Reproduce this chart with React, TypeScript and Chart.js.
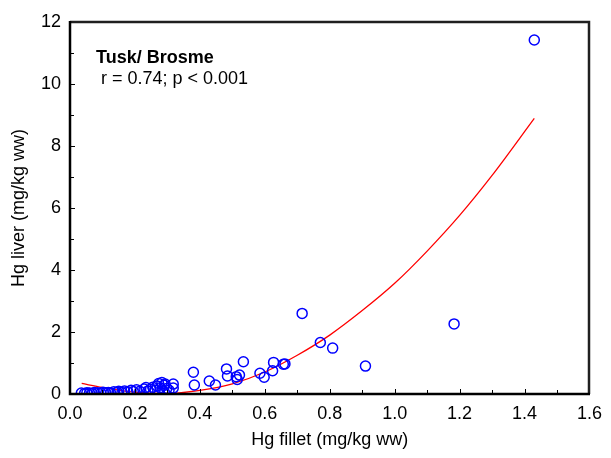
import React, { useEffect, useRef } from 'react';
import { Chart, registerables } from 'chart.js';

Chart.register(...registerables);

// Scatter data: Hg in fillet vs Hg in liver (mg/kg ww)
const filletHg = [
  0.035, 0.045, 0.052, 0.06, 0.068, 0.075, 0.085, 0.095, 0.102, 0.11,
  0.118, 0.125, 0.135, 0.145, 0.15, 0.16, 0.168, 0.178, 0.188, 0.195,
  0.205, 0.215, 0.228, 0.234, 0.24, 0.248, 0.255, 0.262, 0.268, 0.273,
  0.278, 0.283, 0.286, 0.29, 0.293, 0.298, 0.305, 0.318, 0.318,
  0.38, 0.383, 0.429, 0.448, 0.482, 0.485, 0.512, 0.515, 0.522, 0.534,
  0.585, 0.598, 0.624, 0.627, 0.657, 0.662, 0.715, 0.771, 0.809, 0.91,
  1.183, 1.43,
];
const liverHg = [
  0.03, 0.02, 0.04, 0.03, 0.02, 0.05, 0.04, 0.03, 0.06, 0.04,
  0.05, 0.03, 0.07, 0.06, 0.09, 0.05, 0.1, 0.07, 0.12, 0.08,
  0.14, 0.09, 0.16, 0.21, 0.1, 0.15, 0.22, 0.12, 0.26, 0.34,
  0.2, 0.37, 0.1, 0.28, 0.32, 0.18, 0.12, 0.32, 0.19,
  0.7, 0.29, 0.42, 0.29, 0.81, 0.58, 0.56, 0.47, 0.61, 1.04,
  0.67, 0.54, 0.75, 1.02, 0.96, 0.97, 2.6, 1.66, 1.48, 0.9,
  2.26, 11.42,
];

// Fitted curve
const fitX = [0.036, 0.1, 0.2, 0.3, 0.4, 0.5, 0.6, 0.7, 0.8, 0.9, 1.0, 1.1, 1.2, 1.3, 1.43];
const fitY = [0.34, 0.21, 0.06, 0.02, 0.12, 0.33, 0.71, 1.25, 1.9, 2.69, 3.57, 4.61, 5.76, 7.05, 8.89];

const xMinorTicks = [0.1, 0.3, 0.5, 0.7, 0.9, 1.1, 1.3, 1.5];
const xMajorTicks = [0, 0.2, 0.4, 0.6, 0.8, 1.0, 1.2, 1.4, 1.6];
const yMajorTicks = [0, 2, 4, 6, 8, 10, 12];
const yMinorTicks = [1, 3, 5, 7, 9, 11];

const titleLine1 = 'Tusk/ Brosme';
const titleLine2 = ' r = 0.74; p < 0.001';
const xTitle = 'Hg fillet (mg/kg ww)';
const yTitle = 'Hg liver (mg/kg ww)';

const FONT = '"Liberation Sans", Arial, sans-serif';

const framePlugin = {
  id: 'framePlugin',
  afterDraw(chart: any) {
    const ctx = chart.ctx as CanvasRenderingContext2D;
    const area = chart.chartArea;
    const left = Math.round(area.left);
    const right = Math.round(area.right);
    const top = Math.round(area.top);
    const bottom = Math.round(area.bottom);
    const xs = chart.scales.x;
    const ys = chart.scales.y;
    ctx.save();
    ctx.setLineDash([]);
    ctx.lineCap = 'butt';
    // inward ticks
    ctx.strokeStyle = '#000';
    ctx.lineWidth = 1;
    ctx.beginPath();
    const xt = [...xMajorTicks.map((v) => [v, 5]), ...xMinorTicks.map((v) => [v, 4])];
    xt.forEach(([v, len]) => {
      const px = Math.round(xs.getPixelForValue(v)) + 0.5;
      ctx.moveTo(px, bottom);
      ctx.lineTo(px, bottom - len);
    });
    const yt = [...yMajorTicks.map((v) => [v, 5]), ...yMinorTicks.map((v) => [v, 4])];
    yt.forEach(([v, len]) => {
      const py = Math.round(ys.getPixelForValue(v)) + 0.5;
      ctx.moveTo(left, py);
      ctx.lineTo(left + len, py);
    });
    ctx.stroke();
    // frame
    ctx.strokeStyle = '#202020';
    ctx.lineWidth = 2.5;
    ctx.beginPath();
    ctx.moveTo(left, top);
    ctx.lineTo(right, top);
    ctx.lineTo(right, bottom);
    ctx.stroke();
    ctx.strokeStyle = '#000';
    ctx.lineWidth = 2.5;
    ctx.beginPath();
    ctx.moveTo(left, top - 1);
    ctx.lineTo(left, bottom);
    ctx.lineTo(right + 1, bottom);
    ctx.stroke();
    // annotation
    ctx.fillStyle = '#000';
    ctx.textAlign = 'left';
    ctx.textBaseline = 'alphabetic';
    ctx.font = 'bold 18px ' + FONT;
    ctx.fillText(titleLine1, left + 26, top + 41);
    ctx.font = '18px ' + FONT;
    ctx.fillText(titleLine2, left + 26, top + 62);
    ctx.restore();
  },
};

export default function App() {
  const ref = useRef<HTMLCanvasElement | null>(null);
  useEffect(() => {
    if (!ref.current) return;
    const points = filletHg.map((x, i) => ({ x, y: liverHg[i] }));
    const curve = fitX.map((x, i) => ({ x, y: fitY[i] }));
    const chart = new Chart(ref.current, {
      type: 'scatter',
      data: {
        datasets: [
          {
            type: 'scatter',
            data: points,
            pointStyle: 'circle',
            pointRadius: 5,
            pointHoverRadius: 5,
            borderWidth: 1.5,
            borderColor: '#0000ff',
            backgroundColor: 'rgba(0,0,0,0)',
            clip: 0,
          } as any,
          {
            type: 'line',
            data: curve,
            borderColor: '#ff0000',
            borderWidth: 1.3,
            pointRadius: 0,
            fill: false,
            cubicInterpolationMode: 'monotone',
            showLine: true,
            clip: 0,
          } as any,
        ],
      },
      options: {
        animation: false,
        responsive: false,
        maintainAspectRatio: false,
        layout: { padding: { top: 22, right: 15, left: 0, bottom: 0 } },
        plugins: {
          legend: { display: false },
          tooltip: { enabled: false },
          title: { display: false },
        },
        scales: {
          x: {
            type: 'linear',
            min: 0,
            max: 1.6,
            afterFit: (s: any) => { s.height = 64; },
            afterBuildTicks: (s: any) => { s.ticks = xMajorTicks.map((v) => ({ value: v })); },
            grid: { display: false, drawTicks: false },
            border: { display: false },
            ticks: {
              color: '#000',
              padding: 9,
              maxRotation: 0,
              font: { family: FONT, size: 18 },
              callback: (v: any) => Number(v).toFixed(1),
            },
            title: {
              display: true,
              text: xTitle,
              color: '#000',
              font: { family: FONT, size: 18 },
              padding: { top: 0, bottom: 7 },
            },
          },
          y: {
            type: 'linear',
            min: 0,
            max: 12,
            afterFit: (s: any) => { s.width = 70; },
            afterBuildTicks: (s: any) => { s.ticks = yMajorTicks.map((v) => ({ value: v })); },
            grid: { display: false, drawTicks: false },
            border: { display: false },
            ticks: {
              color: '#000',
              padding: 9,
              font: { family: FONT, size: 18 },
              callback: (v: any) => String(v),
            },
            title: {
              display: true,
              text: yTitle,
              color: '#000',
              font: { family: FONT, size: 18 },
              padding: { top: 8, bottom: 0 },
            },
          },
        },
      },
      plugins: [framePlugin],
    });
    return () => chart.destroy();
  }, []);
  return (
    <div style={{ position: 'fixed', left: 0, top: 0, width: 611, height: 458, background: '#fff' }}>
      <canvas ref={ref} width={611} height={458} style={{ width: 611, height: 458, display: 'block' }} />
    </div>
  );
}
